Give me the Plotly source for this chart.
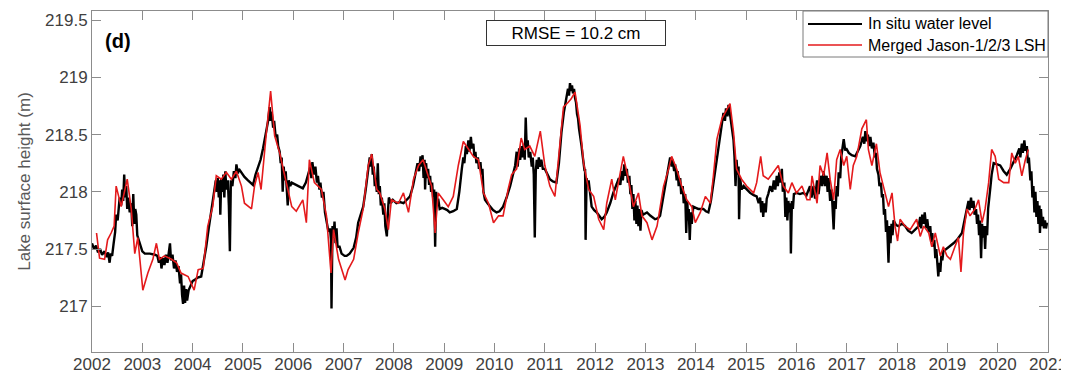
import plotly.graph_objects as go

# ---------------- data (decimal year, lake surface height in metres) ----------------
insitu = [
    (2002.00, 217.55), (2002.04, 217.50), (2002.08, 217.53), (2002.12, 217.47), (2002.16, 217.50),
    (2002.20, 217.45), (2002.25, 217.48), (2002.29, 217.43), (2002.32, 217.47), (2002.35, 217.38),
    (2002.37, 217.46), (2002.40, 217.44), (2002.43, 217.55), (2002.46, 217.65), (2002.48, 217.80),
    (2002.51, 217.75), (2002.55, 217.95), (2002.58, 217.88), (2002.60, 218.02), (2002.62, 217.92),
    (2002.64, 218.15), (2002.66, 217.95), (2002.68, 218.05), (2002.70, 217.85), (2002.72, 217.95),
    (2002.75, 217.82), (2002.78, 217.90), (2002.80, 217.70), (2002.82, 217.98), (2002.84, 217.72),
    (2002.86, 217.85), (2002.88, 217.80), (2002.90, 217.62), (2002.93, 217.58), (2002.96, 217.52),
    (2003.00, 217.48), (2003.05, 217.46), (2003.15, 217.46), (2003.25, 217.45), (2003.30, 217.44),
    (2003.33, 217.38), (2003.36, 217.43), (2003.38, 217.33), (2003.41, 217.42), (2003.44, 217.36),
    (2003.47, 217.45), (2003.50, 217.38), (2003.53, 217.48), (2003.55, 217.55), (2003.57, 217.40),
    (2003.60, 217.45), (2003.63, 217.33), (2003.66, 217.40), (2003.69, 217.30), (2003.72, 217.35),
    (2003.75, 217.20), (2003.77, 217.28), (2003.79, 217.10), (2003.81, 217.02), (2003.83, 217.18),
    (2003.85, 217.03), (2003.87, 217.15), (2003.89, 217.05), (2003.92, 217.14), (2003.96, 217.18),
    (2004.00, 217.22), (2004.04, 217.23), (2004.10, 217.25), (2004.17, 217.26), (2004.22, 217.38),
    (2004.27, 217.52), (2004.32, 217.68), (2004.37, 217.82), (2004.42, 217.98), (2004.46, 218.10),
    (2004.48, 218.00), (2004.50, 218.12), (2004.52, 217.95), (2004.54, 218.10), (2004.55, 217.80),
    (2004.57, 218.12), (2004.59, 218.00), (2004.61, 218.15), (2004.63, 217.95), (2004.65, 218.18),
    (2004.67, 218.02), (2004.70, 218.10), (2004.72, 217.88), (2004.74, 217.48), (2004.76, 218.10),
    (2004.79, 218.05), (2004.82, 218.18), (2004.85, 218.12), (2004.87, 218.24), (2004.90, 218.16),
    (2004.92, 218.20), (2004.97, 218.17), (2005.03, 218.13), (2005.10, 218.10), (2005.15, 218.08),
    (2005.20, 218.06), (2005.25, 218.15), (2005.30, 218.22), (2005.35, 218.28), (2005.40, 218.38),
    (2005.43, 218.45), (2005.47, 218.55), (2005.50, 218.62), (2005.53, 218.74), (2005.55, 218.62),
    (2005.57, 218.70), (2005.60, 218.56), (2005.62, 218.62), (2005.65, 218.48), (2005.68, 218.50),
    (2005.70, 218.40), (2005.73, 218.35), (2005.75, 218.25), (2005.77, 218.30), (2005.79, 218.00),
    (2005.81, 218.22), (2005.83, 218.10), (2005.85, 218.18), (2005.87, 218.05), (2005.89, 217.88),
    (2005.91, 218.10), (2005.94, 218.05), (2005.97, 218.08), (2006.05, 218.06), (2006.12, 218.05),
    (2006.19, 218.03), (2006.25, 218.08), (2006.30, 218.15), (2006.34, 218.22), (2006.36, 218.12),
    (2006.38, 218.26), (2006.41, 218.15), (2006.44, 218.22), (2006.47, 218.08), (2006.49, 218.14),
    (2006.52, 218.02), (2006.54, 218.08), (2006.57, 217.95), (2006.60, 218.00), (2006.63, 217.82),
    (2006.66, 217.75), (2006.70, 217.65), (2006.73, 217.68), (2006.75, 217.58), (2006.76, 216.98),
    (2006.78, 217.70), (2006.80, 217.60), (2006.82, 217.74), (2006.84, 217.55), (2006.86, 217.68),
    (2006.88, 217.52), (2006.92, 217.52), (2006.96, 217.46), (2007.02, 217.44), (2007.06, 217.44),
    (2007.12, 217.46), (2007.20, 217.51), (2007.25, 217.60), (2007.29, 217.73), (2007.34, 217.80),
    (2007.39, 217.87), (2007.44, 218.02), (2007.49, 218.23), (2007.52, 218.30), (2007.54, 218.22),
    (2007.56, 218.33), (2007.58, 218.15), (2007.60, 218.22), (2007.62, 218.05), (2007.64, 218.12),
    (2007.66, 218.00), (2007.68, 218.25), (2007.70, 217.98), (2007.72, 218.05), (2007.74, 217.88),
    (2007.76, 217.95), (2007.79, 217.80), (2007.81, 217.90), (2007.83, 217.70), (2007.86, 217.61),
    (2007.88, 217.82), (2007.90, 217.95), (2007.94, 217.90), (2007.98, 217.93), (2008.05, 217.90),
    (2008.12, 217.91), (2008.19, 217.90), (2008.25, 217.93), (2008.32, 217.96), (2008.38, 218.05),
    (2008.43, 218.15), (2008.47, 218.25), (2008.50, 218.18), (2008.53, 218.31), (2008.55, 218.22),
    (2008.57, 218.32), (2008.59, 218.12), (2008.61, 218.28), (2008.62, 218.02), (2008.64, 218.25),
    (2008.66, 218.12), (2008.68, 218.20), (2008.70, 218.06), (2008.72, 218.14), (2008.74, 218.00),
    (2008.76, 218.08), (2008.78, 217.95), (2008.80, 218.02), (2008.82, 217.52), (2008.84, 218.00),
    (2008.86, 217.88), (2008.88, 217.94), (2008.91, 217.85), (2008.96, 217.86), (2009.01, 217.85),
    (2009.06, 217.84), (2009.11, 217.82), (2009.18, 217.83), (2009.25, 217.85), (2009.30, 218.00),
    (2009.35, 218.20), (2009.38, 218.30), (2009.40, 218.25), (2009.43, 218.40), (2009.45, 218.33),
    (2009.48, 218.45), (2009.50, 218.35), (2009.53, 218.48), (2009.55, 218.38), (2009.58, 218.42),
    (2009.60, 218.30), (2009.62, 218.35), (2009.64, 218.25), (2009.67, 218.30), (2009.69, 218.20),
    (2009.72, 218.26), (2009.74, 218.15), (2009.76, 218.20), (2009.78, 218.00), (2009.81, 217.93),
    (2009.86, 217.90), (2009.91, 217.87), (2009.97, 217.84), (2010.04, 217.82), (2010.10, 217.83),
    (2010.17, 217.87), (2010.24, 217.95), (2010.31, 218.05), (2010.36, 218.15), (2010.41, 218.23),
    (2010.44, 218.35), (2010.46, 218.22), (2010.49, 218.38), (2010.51, 218.28), (2010.54, 218.40),
    (2010.56, 218.30), (2010.58, 218.42), (2010.60, 218.28), (2010.62, 218.65), (2010.64, 218.38),
    (2010.66, 218.45), (2010.68, 218.30), (2010.71, 218.35), (2010.74, 218.22), (2010.76, 218.30),
    (2010.78, 218.15), (2010.80, 217.60), (2010.82, 218.18), (2010.84, 218.28), (2010.86, 218.20),
    (2010.88, 218.30), (2010.90, 218.22), (2010.93, 218.28), (2010.96, 218.20), (2011.00, 218.20),
    (2011.05, 218.15), (2011.10, 218.11), (2011.16, 218.09), (2011.23, 218.08), (2011.28, 218.25),
    (2011.33, 218.52), (2011.38, 218.70), (2011.43, 218.84), (2011.46, 218.90), (2011.48, 218.84),
    (2011.50, 218.95), (2011.52, 218.88), (2011.54, 218.93), (2011.56, 218.86), (2011.58, 218.90),
    (2011.60, 218.82), (2011.62, 218.78), (2011.64, 218.68), (2011.66, 218.64), (2011.68, 218.55),
    (2011.70, 218.50), (2011.73, 218.40), (2011.75, 218.32), (2011.77, 218.25), (2011.79, 218.18),
    (2011.80, 218.20), (2011.81, 217.58), (2011.83, 218.12), (2011.85, 218.05), (2011.87, 218.10),
    (2011.90, 217.95), (2011.93, 217.87), (2011.98, 217.84), (2012.03, 217.82), (2012.08, 217.79),
    (2012.13, 217.76), (2012.18, 217.78), (2012.23, 217.82), (2012.30, 217.90), (2012.36, 217.99),
    (2012.43, 218.07), (2012.47, 218.12), (2012.50, 218.06), (2012.53, 218.18), (2012.55, 218.10),
    (2012.58, 218.24), (2012.60, 218.14), (2012.63, 218.20), (2012.65, 218.08), (2012.68, 218.14),
    (2012.70, 217.98), (2012.72, 218.06), (2012.74, 217.85), (2012.76, 217.98), (2012.78, 217.75),
    (2012.80, 217.92), (2012.82, 217.72), (2012.84, 217.88), (2012.86, 217.70), (2012.88, 217.85),
    (2012.90, 217.66), (2012.92, 217.84), (2012.95, 217.80), (2013.03, 217.82), (2013.10, 217.79),
    (2013.19, 217.76), (2013.25, 217.77), (2013.29, 217.79), (2013.34, 217.92), (2013.39, 218.05),
    (2013.44, 218.18), (2013.47, 218.26), (2013.49, 218.30), (2013.52, 218.22), (2013.54, 218.28),
    (2013.57, 218.18), (2013.59, 218.24), (2013.62, 218.10), (2013.64, 218.18), (2013.66, 218.05),
    (2013.69, 218.12), (2013.71, 217.98), (2013.74, 218.05), (2013.76, 217.90), (2013.79, 217.98),
    (2013.81, 217.64), (2013.83, 217.92), (2013.85, 217.75), (2013.86, 217.85), (2013.88, 217.58),
    (2013.90, 217.82), (2013.92, 217.72), (2013.95, 217.87), (2014.00, 217.86), (2014.05, 217.85),
    (2014.10, 217.85), (2014.15, 217.85), (2014.20, 217.83), (2014.25, 217.82), (2014.30, 217.92),
    (2014.35, 218.08), (2014.40, 218.25), (2014.45, 218.40), (2014.50, 218.55), (2014.55, 218.69),
    (2014.58, 218.62), (2014.60, 218.73), (2014.63, 218.66), (2014.65, 218.76), (2014.68, 218.68),
    (2014.70, 218.62), (2014.72, 218.52), (2014.75, 218.45), (2014.77, 218.30), (2014.79, 218.05),
    (2014.81, 218.28), (2014.83, 218.15), (2014.85, 218.22), (2014.86, 217.76), (2014.88, 218.12),
    (2014.91, 218.02), (2014.95, 218.05), (2015.02, 218.02), (2015.08, 217.99), (2015.15, 217.97),
    (2015.21, 217.96), (2015.25, 217.90), (2015.28, 217.95), (2015.30, 217.82), (2015.32, 217.92),
    (2015.34, 217.78), (2015.36, 217.90), (2015.39, 217.82), (2015.41, 217.94), (2015.44, 217.98),
    (2015.48, 218.05), (2015.52, 218.00), (2015.55, 218.10), (2015.58, 218.02), (2015.61, 218.14),
    (2015.63, 218.05), (2015.66, 218.17), (2015.68, 218.08), (2015.71, 218.20), (2015.73, 218.00),
    (2015.76, 218.08), (2015.78, 217.78), (2015.80, 217.95), (2015.82, 217.75), (2015.84, 217.92),
    (2015.86, 217.82), (2015.88, 217.90), (2015.89, 217.46), (2015.91, 217.92), (2015.93, 217.85),
    (2015.95, 217.98), (2016.00, 217.99), (2016.07, 217.98), (2016.14, 217.99), (2016.20, 217.97),
    (2016.27, 218.05), (2016.30, 217.95), (2016.34, 218.05), (2016.37, 217.94), (2016.41, 218.10),
    (2016.44, 217.98), (2016.48, 218.14), (2016.51, 218.05), (2016.54, 218.18), (2016.57, 218.05),
    (2016.60, 218.14), (2016.62, 218.00), (2016.64, 218.12), (2016.67, 217.92), (2016.70, 218.02),
    (2016.72, 217.88), (2016.74, 217.67), (2016.76, 217.92), (2016.78, 217.85), (2016.80, 218.05),
    (2016.82, 217.96), (2016.84, 218.17), (2016.87, 218.12), (2016.89, 218.30), (2016.92, 218.38),
    (2016.94, 218.46), (2016.97, 218.36), (2016.99, 218.38), (2017.04, 218.34), (2017.10, 218.32),
    (2017.17, 218.31), (2017.22, 218.35), (2017.27, 218.40), (2017.32, 218.48), (2017.35, 218.42),
    (2017.37, 218.53), (2017.40, 218.44), (2017.42, 218.50), (2017.45, 218.40), (2017.47, 218.48),
    (2017.50, 218.38), (2017.53, 218.43), (2017.56, 218.30), (2017.58, 218.34), (2017.60, 218.20),
    (2017.63, 218.15), (2017.65, 218.05), (2017.68, 218.08), (2017.70, 217.95), (2017.72, 217.98),
    (2017.74, 217.80), (2017.76, 217.85), (2017.78, 217.65), (2017.80, 217.75), (2017.82, 217.58),
    (2017.83, 217.38), (2017.85, 217.70), (2017.87, 217.55), (2017.89, 217.72), (2017.91, 217.62),
    (2017.93, 217.75), (2017.98, 217.71), (2018.03, 217.70), (2018.10, 217.72), (2018.16, 217.70),
    (2018.22, 217.66), (2018.29, 217.64), (2018.36, 217.67), (2018.43, 217.70), (2018.46, 217.78),
    (2018.48, 217.68), (2018.50, 217.80), (2018.53, 217.72), (2018.55, 217.82), (2018.58, 217.68),
    (2018.60, 217.76), (2018.63, 217.65), (2018.66, 217.70), (2018.68, 217.56), (2018.70, 217.64),
    (2018.72, 217.52), (2018.74, 217.58), (2018.76, 217.42), (2018.78, 217.50), (2018.80, 217.34),
    (2018.82, 217.26), (2018.84, 217.38), (2018.86, 217.30), (2018.88, 217.44), (2018.90, 217.40),
    (2018.92, 217.48), (2018.98, 217.50), (2019.05, 217.52), (2019.12, 217.55), (2019.19, 217.58),
    (2019.24, 217.61), (2019.29, 217.64), (2019.34, 217.75), (2019.39, 217.85), (2019.42, 217.92),
    (2019.44, 217.84), (2019.47, 217.95), (2019.49, 217.86), (2019.52, 217.92), (2019.54, 217.80),
    (2019.57, 217.85), (2019.59, 217.72), (2019.61, 217.80), (2019.63, 217.62), (2019.65, 217.75),
    (2019.67, 217.42), (2019.69, 217.72), (2019.71, 217.60), (2019.73, 217.70), (2019.75, 217.50),
    (2019.77, 217.70), (2019.79, 217.62), (2019.81, 217.85), (2019.85, 218.02), (2019.88, 218.15),
    (2019.92, 218.25), (2019.98, 218.24), (2020.05, 218.23), (2020.12, 218.18), (2020.18, 218.15),
    (2020.25, 218.20), (2020.31, 218.25), (2020.38, 218.32), (2020.43, 218.38), (2020.45, 218.30),
    (2020.48, 218.42), (2020.50, 218.34), (2020.53, 218.45), (2020.55, 218.36), (2020.58, 218.40),
    (2020.60, 218.25), (2020.62, 218.30), (2020.65, 218.10), (2020.67, 218.18), (2020.69, 217.95),
    (2020.71, 218.05), (2020.73, 217.82), (2020.75, 218.00), (2020.77, 217.78), (2020.79, 217.92),
    (2020.81, 217.72), (2020.83, 217.88), (2020.84, 217.64), (2020.86, 217.85), (2020.88, 217.70),
    (2020.90, 217.78), (2020.92, 217.68), (2020.94, 217.75), (2020.96, 217.68), (2020.98, 217.73),
]

jason_t = [
    2002.09, 2002.15, 2002.25, 2002.31, 2002.38, 2002.44, 2002.48, 2002.58, 2002.70, 2002.78,
    2002.85, 2002.91, 2003.01, 2003.11, 2003.21, 2003.28, 2003.34, 2003.44, 2003.58, 2003.68,
    2003.77, 2003.91, 2004.03, 2004.11, 2004.21, 2004.30, 2004.40, 2004.47, 2004.57, 2004.67,
    2004.77, 2004.87, 2004.97, 2005.03, 2005.17, 2005.23, 2005.30, 2005.36, 2005.46, 2005.55,
    2005.63, 2005.73, 2005.83, 2005.97, 2006.06, 2006.19, 2006.26, 2006.32, 2006.42, 2006.56,
    2006.66, 2006.75, 2006.80, 2006.90, 2007.03, 2007.09, 2007.20, 2007.29, 2007.39, 2007.49,
    2007.56, 2007.66, 2007.72, 2007.82, 2007.89, 2007.95, 2008.09, 2008.19, 2008.29, 2008.39,
    2008.49, 2008.58, 2008.68, 2008.75, 2008.82, 2008.88, 2008.98, 2009.08, 2009.18, 2009.28,
    2009.38, 2009.48, 2009.58, 2009.68, 2009.78, 2009.88, 2009.98, 2010.08, 2010.17, 2010.27,
    2010.34, 2010.44, 2010.53, 2010.60, 2010.70, 2010.80, 2010.91, 2011.00, 2011.10, 2011.20,
    2011.27, 2011.37, 2011.46, 2011.52, 2011.60, 2011.70, 2011.77, 2011.87, 2011.97, 2012.07,
    2012.17, 2012.23, 2012.33, 2012.40, 2012.50, 2012.56, 2012.66, 2012.76, 2012.86, 2012.93,
    2013.03, 2013.13, 2013.23, 2013.36, 2013.46, 2013.52, 2013.62, 2013.72, 2013.82, 2013.92,
    2013.99, 2014.09, 2014.19, 2014.29, 2014.35, 2014.42, 2014.52, 2014.58, 2014.68, 2014.75,
    2014.81, 2014.91, 2015.01, 2015.15, 2015.21, 2015.29, 2015.34, 2015.44, 2015.54, 2015.64,
    2015.74, 2015.84, 2015.91, 2016.00, 2016.11, 2016.21, 2016.27, 2016.31, 2016.41, 2016.47,
    2016.54, 2016.61, 2016.67, 2016.74, 2016.80, 2016.87, 2016.94, 2017.00, 2017.07, 2017.13,
    2017.20, 2017.30, 2017.39, 2017.43, 2017.50, 2017.59, 2017.66, 2017.76, 2017.83, 2017.90,
    2017.96, 2018.01, 2018.06, 2018.16, 2018.26, 2018.39, 2018.46, 2018.53, 2018.63, 2018.69,
    2018.76, 2018.86, 2018.92, 2018.99, 2019.06, 2019.15, 2019.22, 2019.27, 2019.32, 2019.39,
    2019.45, 2019.55, 2019.62, 2019.69, 2019.75, 2019.82, 2019.88, 2019.95, 2020.02, 2020.12,
    2020.22, 2020.28, 2020.35, 2020.41, 2020.48, 2020.55, 2020.61,
]
jason_h = [
    217.64, 217.42, 217.41, 217.58, 217.64, 217.70, 218.05, 217.87, 218.11, 217.85,
    217.46, 217.60, 217.14, 217.29, 217.41, 217.55, 217.41, 217.44, 217.41, 217.38,
    217.29, 217.26, 217.14, 217.32, 217.33, 217.70, 217.87, 218.14, 218.11, 218.17,
    218.11, 218.18, 218.05, 217.90, 217.85, 218.05, 218.17, 218.02, 218.49, 218.88,
    218.49, 218.34, 218.14, 217.87, 217.83, 217.93, 217.73, 218.28, 218.08, 218.02,
    217.79, 217.29, 217.67, 217.41, 217.23, 217.32, 217.41, 217.64, 217.85, 218.23,
    218.33, 218.02, 217.99, 217.85, 217.67, 217.93, 217.90, 217.99, 217.82, 218.11,
    218.23, 218.28, 218.14, 218.05, 217.64, 217.99, 217.93, 217.87, 217.96, 218.23,
    218.44, 218.37, 218.31, 218.28, 217.99, 217.90, 217.73, 217.79, 217.79, 218.02,
    218.15, 218.20, 218.47, 218.37, 218.40, 218.31, 218.53, 218.23, 218.05, 217.96,
    218.28, 218.74, 218.78, 218.81, 218.87, 218.58, 218.25, 218.02, 217.96, 217.76,
    217.67, 217.90, 218.11, 217.93, 218.17, 218.31, 218.11, 217.87, 217.99, 217.79,
    217.73, 217.58, 217.70, 218.05, 218.20, 218.31, 218.20, 218.05, 217.93, 217.87,
    217.73, 217.82, 217.96, 217.90, 218.14, 218.46, 218.64, 218.69, 218.77, 218.52,
    218.20, 218.11, 218.05, 217.99, 218.08, 218.31, 218.14, 218.11, 218.17, 218.23,
    218.05, 217.99, 218.08, 217.99, 218.05, 217.93, 217.93, 218.14, 217.90, 218.23,
    218.14, 218.34, 218.11, 217.93, 218.28, 218.37, 218.23, 218.31, 218.02, 218.23,
    218.31, 218.55, 218.63, 218.37, 218.23, 218.42, 218.17, 217.99, 217.87, 217.99,
    217.70, 217.57, 217.76, 217.70, 217.67, 217.76, 217.61, 217.70, 217.64, 217.52,
    217.64, 217.44, 217.52, 217.44, 217.41, 217.52, 217.60, 217.30, 217.64, 217.85,
    217.79, 217.85, 217.93, 217.73, 217.85, 218.08, 218.37, 218.31, 218.11, 218.08,
    218.08, 218.34, 218.25, 218.31, 218.14, 218.28, 218.37,
]
insitu_t = [p[0] for p in insitu]
insitu_h = [p[1] for p in insitu]

year_ticks = list(range(2002, 2022))
height_ticks = [217, 217.5, 218, 218.5, 219, 219.5]
height_tick_text = ["217", "217.5", "218", "218.5", "219", "219.5"]

series_names = ["In situ water level", "Merged Jason-1/2/3 LSH"]
series_colors = ["black", "#e41a1c"]
series_widths = [2.4, 1.6]
rmse_text = "RMSE = 10.2 cm"
panel_label = "(d)"

# ---------------- figure ----------------
FONT = "Liberation Sans, Arial, sans-serif"
AXIS_GREY = "#8c8c8c"
TICK_GREY = "#404040"

# the page body adds an 8 px offset; target plot box in window pixels
OFF = 8
FIG_W, FIG_H = 1069 - OFF, 383 - OFF
L, R, T, B = 92, 1048, 11, 352
W, H = R - L, B - T
def px(x):
    return (x - L) / W
def py(y):
    return (B - y) / H

fig = go.Figure()
fig.add_trace(go.Scatter(
    x=insitu_t, y=insitu_h, mode="lines", name=series_names[0],
    line=dict(color=series_colors[0], width=series_widths[0]), showlegend=False,
))
fig.add_trace(go.Scatter(
    x=jason_t, y=jason_h, mode="lines", name=series_names[1],
    line=dict(color=series_colors[1], width=series_widths[1]), showlegend=False,
))

fig.update_layout(
    width=FIG_W, height=FIG_H,
    margin=dict(l=L - OFF, r=FIG_W - (R - OFF), t=T - OFF, b=FIG_H - (B - OFF), pad=0),
    paper_bgcolor="white", plot_bgcolor="white",
    font=dict(family=FONT, size=17, color=TICK_GREY),
    showlegend=False,
)

fig.update_xaxes(
    range=[2002, 2021], tickmode="array", tickvals=year_ticks,
    ticktext=[str(y) for y in year_ticks], automargin=False,
    showgrid=False, zeroline=False,
    showline=True, linecolor=AXIS_GREY, linewidth=1, mirror="ticks",
    ticks="inside", ticklen=9, tickcolor=AXIS_GREY, tickwidth=1,
    ticklabelstandoff=-3,
    tickfont=dict(family=FONT, size=17, color=TICK_GREY),
)
fig.update_yaxes(
    range=[216.6, 219.58], tickmode="array", tickvals=height_ticks,
    ticktext=height_tick_text, automargin=False,
    showgrid=False, zeroline=False,
    showline=True, linecolor=AXIS_GREY, linewidth=1, mirror="ticks",
    ticks="inside", ticklen=9, tickcolor=AXIS_GREY, tickwidth=1,
    tickfont=dict(family=FONT, size=17, color=TICK_GREY),
    title=dict(text="Lake surface height (m)", standoff=10,
               font=dict(family=FONT, size=17, color="#595959")),
)

# legend box (drawn by hand to match the compact MATLAB legend)
fig.add_shape(type="rect", xref="paper", yref="paper",
              x0=px(803), x1=px(1048), y0=py(57), y1=py(11),
              line=dict(color="#7a7a7a", width=1), fillcolor="white", layer="above")
for i, yy in enumerate([24, 45]):
    fig.add_shape(type="line", xref="paper", yref="paper",
                  x0=px(808), x1=px(862), y0=py(yy), y1=py(yy),
                  line=dict(color=series_colors[i], width=2 if i == 0 else 1.6),
                  layer="above")
    fig.add_annotation(text=series_names[i], xref="paper", yref="paper",
                       x=px(866), y=py(yy), xanchor="left", yanchor="middle",
                       showarrow=False, font=dict(family=FONT, size=16, color="black"))

fig.add_annotation(
    text=panel_label, xref="paper", yref="paper", x=px(103), y=py(41),
    xanchor="left", yanchor="middle", showarrow=False,
    font=dict(family=FONT, size=20, color="black", weight="bold"),
)
fig.add_annotation(
    text=rmse_text, xref="paper", yref="paper", x=px(576), y=py(33),
    xanchor="center", yanchor="middle", showarrow=False,
    width=176, height=22, borderpad=1, borderwidth=1, bordercolor="#333333",
    bgcolor="white",
    font=dict(family=FONT, size=17, color="black"),
)
fig.add_annotation(
    text="Date", xref="paper", yref="paper", x=px(545), y=py(380),
    xanchor="center", yanchor="top", showarrow=False,
    font=dict(family=FONT, size=17, color=TICK_GREY),
)

fig.write_html("out.html")
